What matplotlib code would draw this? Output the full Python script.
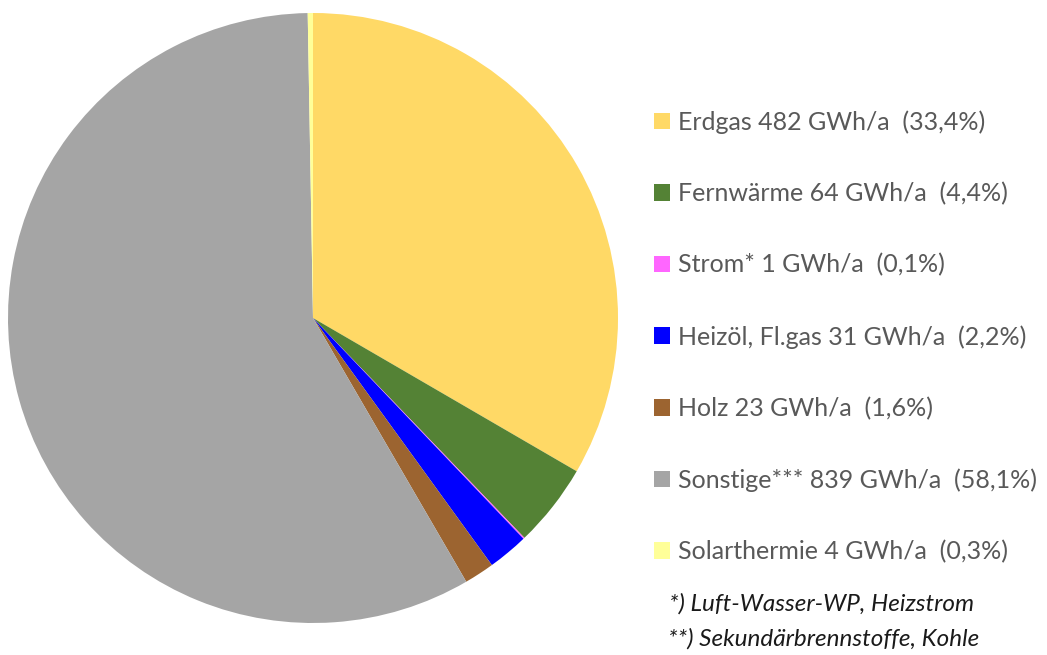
import matplotlib
matplotlib.use("Agg")
import matplotlib.pyplot as plt
from matplotlib.patches import Patch

plt.rcParams['font.family'] = ['Lato', 'DejaVu Sans']

categories = ["Erdgas", "Fernwärme", "Strom*", "Heizöl, Fl.gas", "Holz", "Sonstige***", "Solarthermie"]
values_gwh = [482, 64, 1, 31, 23, 839, 4]
shares_pct = ["33,4", "4,4", "0,1", "2,2", "1,6", "58,1", "0,3"]
colors = ["#FFD966", "#548235", "#FF66FF", "#0000FF", "#9C6430", "#A5A5A5", "#FFFF99"]
footnotes = ["*) Luft-Wasser-WP, Heizstrom", "**) Sekundärbrennstoffe, Kohle"]

W, H = 1047, 655
fig = plt.figure(figsize=(W / 100, H / 100), dpi=100)
cx, cy, r = 313, 318, 305
ax = fig.add_axes([(cx - r) / W, (H - cy - r) / H, 2 * r / W, 2 * r / H])
wedges, _ = ax.pie(values_gwh, colors=colors, startangle=90, counterclock=False,
                   radius=1.0, wedgeprops=dict(linewidth=0))
ax.set_xlim(-1, 1)
ax.set_ylim(-1, 1)
ax.set_aspect('equal')
ax.axis('off')

labels = [f"{c} {v} GWh/a  ({p}%)" for c, v, p in zip(categories, values_gwh, shares_pct)]
handles = [Patch(facecolor=c, edgecolor='none') for c in colors]
leg = fig.legend(handles, labels, loc='upper left', bbox_to_anchor=(654 / W, 1 - 110 / H),
                 frameon=False, fontsize=18, labelcolor='#595959',
                 handlelength=0.64, handleheight=0.64, handletextpad=0.3,
                 labelspacing=1.93, borderaxespad=0, borderpad=0)

fig.text(669 / W, 1 - 604 / H, footnotes[0], fontsize=17.5, style='italic', color='#1a1a1a', va='center')
fig.text(668 / W, 1 - 639 / H, footnotes[1], fontsize=17.5, style='italic', color='#1a1a1a', va='center')

fig.savefig("out.png", dpi=100)
